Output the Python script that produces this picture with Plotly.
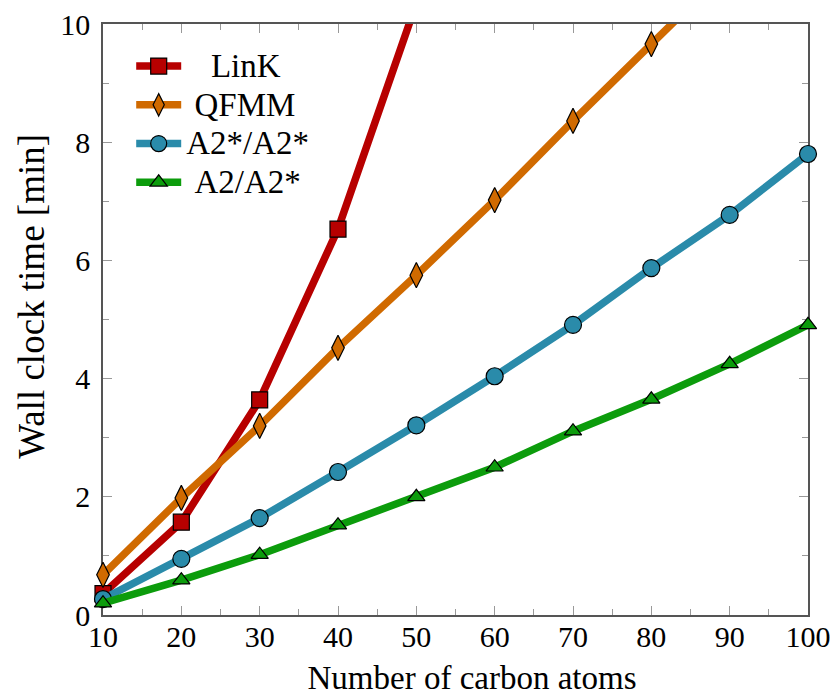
import plotly.graph_objects as go

carbon = [10, 20, 30, 40, 50, 60, 70, 80, 90, 100]
link_x = [10, 20, 30, 40, 50]
link_y = [0.36, 1.57, 3.64, 6.53, 10.35]
qfmm_x = [10, 20, 30, 40, 50, 60, 70, 80, 90]
qfmm_y = [0.68, 1.98, 3.20, 4.52, 5.75, 7.02, 8.36, 9.66, 10.96]
a2s_y = [0.27, 0.95, 1.64, 2.42, 3.21, 4.04, 4.91, 5.87, 6.77, 7.80]
a2_y = [0.20, 0.59, 1.02, 1.52, 2.00, 2.50, 3.11, 3.65, 4.25, 4.91]

x_ticks = [10, 20, 30, 40, 50, 60, 70, 80, 90, 100]
y_ticks = [0, 2, 4, 6, 8, 10]

FONT = "Liberation Serif"
NB = "\u00a0"


def legend_label(text, pad):
    return "<span style='font-size:33px'>" + NB * pad + text + "</span>"


def padded(text, pad):
    return "<span>" + NB * pad + text + "</span>"


series = [
    (legend_label("LinK", 3), link_x, link_y, "#B70000", "square", 16),
    (legend_label("QFMM", 1), qfmm_x, qfmm_y, "#D06A00", "diamond-tall", 18),
    (legend_label("A2*/A2*", 0), carbon, a2s_y, "#2A8BAA", "circle", 17),
    (legend_label("A2/A2*", 1), carbon, a2_y, "#0C9C0C", "triangle-up", 15),
]

fig = go.Figure()
for name, xs, ys, col, sym, sz in series:
    fig.add_trace(go.Scatter(
        x=xs, y=ys, name=name, mode="lines+markers",
        line=dict(color=col, width=7.5),
        marker=dict(symbol=sym, size=sz, color=col, line=dict(color="black", width=1.2)),
        cliponaxis=False,
    ))

axis_common = dict(
    showgrid=False, zeroline=False, showline=True, linecolor="#555555", linewidth=1.5,
    mirror="allticks", ticks="inside", ticklen=9, tickwidth=1.3, tickcolor="#999999",
    tickfont=dict(family=FONT, size=30, color="black"), layer="below traces",
    automargin=False, ticklabeloverflow="allow",
)

fig.update_layout(
    template="none",
    width=830, height=696,
    margin=dict(l=103, r=22, t=24, b=81),
    plot_bgcolor="white", paper_bgcolor="white",
    font=dict(family=FONT, size=30, color="black"),
    xaxis=dict(range=[10, 100], tickvals=x_ticks, ticktext=[str(v) for v in x_ticks],
               title=dict(text=padded("Number of carbon atoms", 4), font=dict(family=FONT, size=33), standoff=17),
               minor=dict(ticks="inside", dtick=5, ticklen=6, tickcolor="#999999", tickwidth=1.3),
               ticklabelstandoff=-6, **axis_common),
    yaxis=dict(range=[0, 10], tickvals=y_ticks, ticktext=[str(v) for v in y_ticks],
               title=dict(text=padded("Wall clock time [min]", 5), font=dict(family=FONT, size=37), standoff=4),
               minor=dict(ticks="inside", dtick=1, ticklen=6, tickcolor="#999999", tickwidth=1.3),
               ticklabelstandoff=5, **axis_common),
    legend=dict(x=0.04, y=0.97, xanchor="left", yanchor="top", bgcolor="rgba(0,0,0,0)",
                font=dict(family=FONT, size=27.5), itemwidth=45, tracegroupgap=0),
    showlegend=True,
)

fig.write_html(
    "out.html",
    config={"displayModeBar": False},
    post_script="document.body.style.margin='0';document.body.style.overflow='hidden';",
)
